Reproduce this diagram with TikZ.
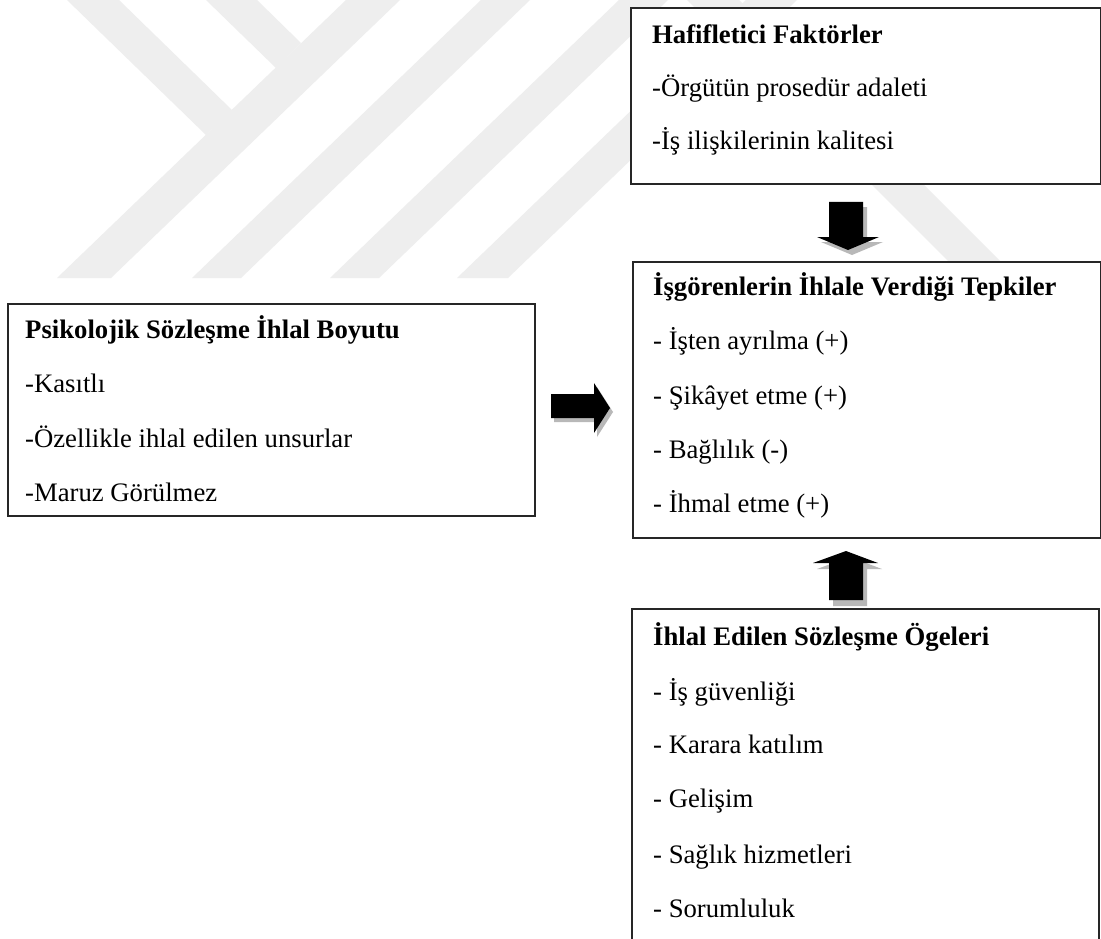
\documentclass[tikz,border=0pt]{standalone}
\usepackage{fontspec}
\setmainfont{Liberation Serif}
\begin{document}
\begin{tikzpicture}[x=1pt,y=-1pt,
  box/.style={draw=black!85, line width=2pt, fill=white, inner sep=0pt, anchor=north west},
  txt/.style={anchor=base west, inner sep=0pt, font=\fontsize{26.7}{32}\selectfont},
  ttl/.style={anchor=base west, inner sep=0pt, font=\fontsize{26.7}{32}\selectfont\bfseries},
  wm/.style={fill=black!6.5, draw=none},
  shade/.style={fill=black!28, draw=none},
  blk/.style={fill=black, draw=none}]
\useasboundingbox (0,0) rectangle (1101,939);
\fill[white] (0,0) rectangle (1101,939);

% watermark bands
\begin{scope}
\clip (0,0) rectangle (1101,939);
\fill[wm] (57,278) -- (111,278) -- (400,0) -- (346,0) -- cycle;
\fill[wm] (67,0) -- (119,0) -- (232,110) -- (206,135) -- cycle;
\fill[wm] (206,0) -- (257,0) -- (301,43) -- (276,68) -- cycle;
\fill[wm] (192,278) -- (241,278) -- (530,0) -- (481,0) -- cycle;
\fill[wm] (330,278) -- (379,278) -- (668,0) -- (619,0) -- cycle;
\fill[wm] (457,278) -- (508,278) -- (797,0) -- (746,0) -- cycle;
\fill[wm] (687,0) -- (739,0) -- (1022,283) -- (970,283) -- cycle;
\end{scope}

% boxes
\node[box, minimum width=470pt, minimum height=176pt] (hafif) at (630,7) {};
\node[box, minimum width=468pt, minimum height=276pt] (tepki) at (632,261) {};
\node[box, minimum width=527pt, minimum height=212pt] (boyut) at (7,303) {};
\coordinate (ogeBL) at (632,945);
\coordinate (ogeTL) at (632,609);
\coordinate (ogeTR) at (1099,609);
\coordinate (ogeBR) at (1099,945);
\filldraw[draw=black!85, fill=white, line width=2pt] (ogeBL) -- (ogeTL) -- (ogeTR) -- (ogeBR);

% arrows: right
\fill[shade] (554,398) -- (597,398) -- (597,387) -- (613,412) -- (597,437) -- (597,422) -- (554,422) -- cycle;
\fill[blk] (551,394) -- (594,394) -- (594,383) -- (610,408) -- (594,433) -- (594,418) -- (551,418) -- cycle;
% down
\fill[shade] (833,207) -- (867,207) -- (867,242) -- (883,242) -- (852,255) -- (821,242) -- (833,242) -- cycle;
\fill[blk] (829,202) -- (863,202) -- (863,237) -- (879,237) -- (848,250) -- (817,237) -- (829,237) -- cycle;
% up
\fill[shade] (850,557) -- (882,569) -- (867,569) -- (867,606) -- (833,606) -- (833,569) -- (817,569) -- cycle;
\fill[blk] (846,551) -- (878,563) -- (863,563) -- (863,600) -- (829,600) -- (829,563) -- (813,563) -- cycle;

% texts: Hafifletici
\node[ttl] (h0) at (652,44) {Hafifletici Faktörler};
\node[txt] (h1) at (652,97) {-Örgütün prosedür adaleti};
\node[txt] (h2) at (652,150) {-İş ilişkilerinin kalitesi};

% texts: tepkiler
\node[ttl] (t0) at (653,295) {İşgörenlerin İhlale Verdiği Tepkiler};
\node[txt] (t1) at (653,349) {- İşten ayrılma (+)};
\node[txt] (t2) at (653,404) {- Şikâyet etme (+)};
\node[txt] (t3) at (653,458) {- Bağlılık (-)};
\node[txt] (t4) at (653,512) {- İhmal etme (+)};

% texts: ogeler
\node[ttl] (o0) at (653,645) {İhlal Edilen Sözleşme Ögeleri};
\node[txt] (o1) at (653,700) {- İş güvenliği};
\node[txt] (o2) at (653,753) {- Karara katılım};
\node[txt] (o3) at (653,807) {- Gelişim};
\node[txt] (o4) at (653,863) {- Sağlık hizmetleri};
\node[txt] (o5) at (653,917) {- Sorumluluk};

% texts: boyut
\node[ttl] (b0) at (25,338) {Psikolojik Sözleşme İhlal Boyutu};
\node[txt] (b1) at (25,392) {-Kasıtlı};
\node[txt] (b2) at (25,447) {-Özellikle ihlal edilen unsurlar};
\node[txt] (b3) at (25,501) {-Maruz Görülmez};
\end{tikzpicture}
\end{document}
